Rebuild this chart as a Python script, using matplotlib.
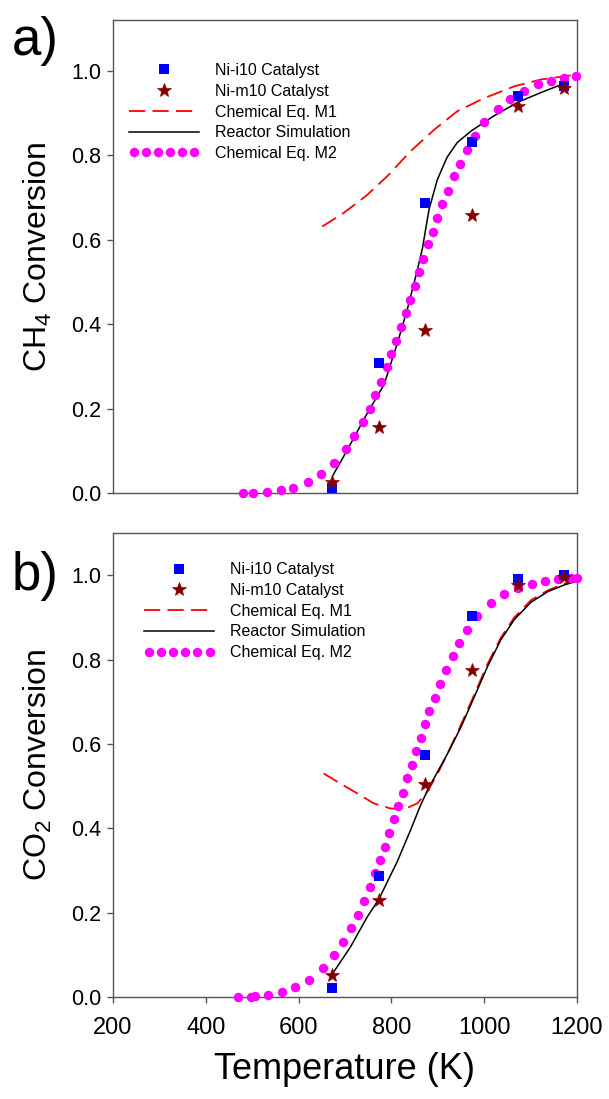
import matplotlib
matplotlib.use("Agg")
import matplotlib.pyplot as plt
from matplotlib.legend_handler import HandlerLine2D

plt.rcParams['font.family'] = ['Liberation Sans', 'DejaVu Sans']
plt.rcParams['mathtext.fontset'] = 'custom'
plt.rcParams['mathtext.rm'] = 'Liberation Sans'
plt.rcParams['mathtext.it'] = 'Liberation Sans:italic'

# ---------------- data ----------------
T_exp = [673, 773, 873, 973, 1073, 1173]

# panel a) CH4 conversion
ch4_i10 = [0.013, 0.309, 0.687, 0.830, 0.941, 0.963]
ch4_m10 = [0.027, 0.157, 0.385, 0.659, 0.917, 0.960]

ch4_m1_T = [651, 697, 748, 791, 841, 892, 942, 1000, 1065, 1122, 1180, 1200]
ch4_m1_y = [0.631, 0.663, 0.706, 0.750, 0.809, 0.860, 0.904, 0.935, 0.963, 0.979, 0.988, 0.990]

ch4_sim_T = [673, 705, 748, 784, 791, 813, 834, 856, 867, 881, 899, 920, 942, 973, 1021, 1072, 1122, 1173]
ch4_sim_y = [0.040, 0.102, 0.189, 0.256, 0.280, 0.355, 0.434, 0.528, 0.580, 0.671, 0.742, 0.795, 0.830, 0.858, 0.893, 0.925, 0.948, 0.970]

ch4_m2_T = [480, 502, 532, 561, 589, 620, 648, 676, 703, 720, 738, 753, 764, 777, 790, 800,
            810, 821, 831, 841, 850, 860, 869, 879, 889, 899, 910, 922, 935, 948, 962, 980,
            1000, 1029, 1056, 1086, 1115, 1144, 1173, 1198]
ch4_m2_y = [0.000, 0.000, 0.002, 0.007, 0.013, 0.025, 0.045, 0.072, 0.104, 0.136, 0.169, 0.200,
            0.232, 0.264, 0.298, 0.329, 0.361, 0.393, 0.426, 0.458, 0.490, 0.523, 0.555, 0.589,
            0.619, 0.651, 0.685, 0.716, 0.750, 0.780, 0.813, 0.846, 0.878, 0.909, 0.934, 0.953,
            0.968, 0.976, 0.983, 0.987]

# panel b) CO2 conversion
co2_i10 = [0.021, 0.287, 0.573, 0.903, 0.990, 1.000]
co2_m10 = [0.052, 0.231, 0.505, 0.776, 0.976, 0.996]

co2_m1_T = [654, 690, 726, 762, 798, 827, 856, 877, 899, 921, 949, 978, 1007, 1036, 1065, 1101, 1137, 1173, 1200]
co2_m1_y = [0.530, 0.506, 0.483, 0.459, 0.447, 0.445, 0.459, 0.486, 0.528, 0.577, 0.643, 0.715,
            0.789, 0.852, 0.900, 0.941, 0.964, 0.980, 0.988]

co2_sim_T = [673, 712, 748, 773, 813, 841, 863, 880, 900, 921, 950, 978, 1007, 1036, 1065, 1101, 1137, 1173, 1200]
co2_sim_y = [0.055, 0.119, 0.190, 0.232, 0.322, 0.395, 0.455, 0.495, 0.535, 0.577, 0.640, 0.710,
             0.783, 0.847, 0.895, 0.936, 0.961, 0.977, 0.986]

co2_m2_T = [469, 498, 505, 534, 564, 593, 623, 652, 677, 696, 713, 728, 742, 754, 765, 775, 786,
            795, 805, 814, 824, 834, 844, 852, 863, 872, 882, 893, 905, 917, 932, 946, 964, 985,
            1014, 1043, 1072, 1103, 1131, 1160, 1187, 1200]
co2_m2_y = [0.000, 0.001, 0.002, 0.005, 0.012, 0.023, 0.040, 0.068, 0.099, 0.131, 0.163, 0.195,
            0.228, 0.260, 0.293, 0.325, 0.356, 0.388, 0.421, 0.453, 0.484, 0.518, 0.550, 0.583,
            0.614, 0.647, 0.678, 0.710, 0.743, 0.776, 0.808, 0.840, 0.871, 0.903, 0.933, 0.955,
            0.970, 0.978, 0.986, 0.990, 0.994, 0.994]

labels = ["Ni-i10 Catalyst", "Ni-m10 Catalyst", "Chemical Eq. M1", "Reactor Simulation", "Chemical Eq. M2"]
yticks = [0.0, 0.2, 0.4, 0.6, 0.8, 1.0]
xticks = [200, 400, 600, 800, 1000, 1200]

# ---------------- figure ----------------
W, H = 609, 1099
fig = plt.figure(figsize=(W / 100, H / 100), dpi=100)

def px_axes(left, top, right, bottom):
    return [left / W, 1 - bottom / H, (right - left) / W, (bottom - top) / H]

axA = fig.add_axes(px_axes(113, 20, 577, 493))
axB = fig.add_axes(px_axes(113, 533, 577, 997))

spine_col = '#555555'

def draw(ax, y_i10, y_m10, m1T, m1y, simT, simy, m2T, m2y, ylim, ylabel, legend_anchor):
    ax.plot(m1T, m1y, color='#ff0000', lw=1.3, dashes=(9, 4), zorder=2)
    ax.plot(simT, simy, color='black', lw=1.1, zorder=3)
    m2, = ax.plot(m2T, m2y, 'o', color='#ff00ff', ms=6.8, mec='#ff00ff', mew=0, zorder=4, clip_on=False)
    sq, = ax.plot(T_exp, y_i10, 's', color='#0000ff', ms=7.8, mew=0, zorder=5)
    st, = ax.plot(T_exp, y_m10, '*', color='#7a0000', mec='#a00000', mew=0.5, ms=10, zorder=6)
    l1, = ax.plot([], [], color='#ff0000', lw=1.3, dashes=(9, 4))
    l2, = ax.plot([], [], color='black', lw=1.1)
    handles = [sq, st, l1, l2, m2]
    ax.legend(handles, labels, loc='upper left', bbox_to_anchor=legend_anchor,
              frameon=False, fontsize=11.5, borderpad=0, borderaxespad=0,
              handlelength=4.4, handletextpad=1.0, labelspacing=0.36,
              handler_map={m2: HandlerLine2D(numpoints=6)}, numpoints=1)
    ax.set_xlim(200, 1200)
    ax.set_ylim(*ylim)
    ax.set_yticks(yticks)
    ax.set_yticklabels([f"{v:.1f}" for v in yticks])
    ax.set_ylabel(ylabel, fontsize=23, labelpad=12)
    for s in ax.spines.values():
        s.set_color(spine_col)
        s.set_linewidth(1.0)
    ax.tick_params(axis='both', direction='out', length=4.5, width=1.0, color=spine_col, pad=4)
    ax.tick_params(axis='y', labelsize=15.5)
    ax.tick_params(axis='x', labelsize=17, pad=10)

draw(axA, ch4_i10, ch4_m10, ch4_m1_T, ch4_m1_y, ch4_sim_T, ch4_sim_y, ch4_m2_T, ch4_m2_y,
     (0, 1.12), "CH$_4$ Conversion", (0.034, 0.909))
axA.set_xticks([])

draw(axB, co2_i10, co2_m10, co2_m1_T, co2_m1_y, co2_sim_T, co2_sim_y, co2_m2_T, co2_m2_y,
     (0, 1.1), "CO$_2$ Conversion", (0.067, 0.937))
axB.set_xticks(xticks)
axB.set_xticklabels([str(v) for v in xticks])
axB.set_xlabel("Temperature (K)", fontsize=26, labelpad=9)

fig.text(12 / W, 1 - 55 / H, "a)", fontsize=38, ha='left', va='baseline')
fig.text(12 / W, 1 - 590 / H, "b)", fontsize=38, ha='left', va='baseline')

fig.savefig("out.png", dpi=100)
